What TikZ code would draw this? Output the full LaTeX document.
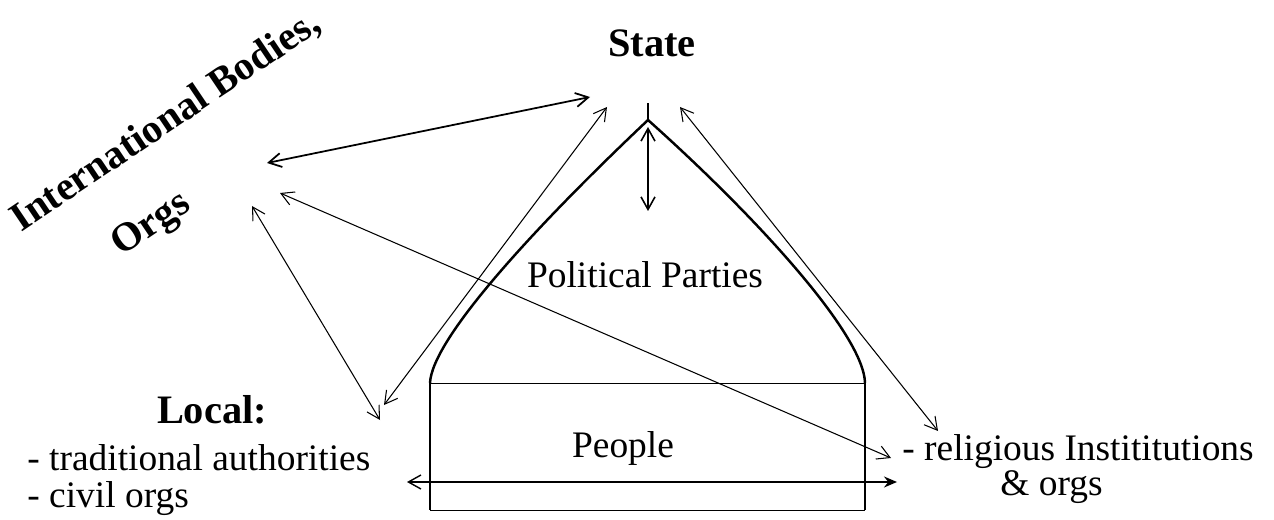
\documentclass[tikz,border=0pt]{standalone}
\usepackage{fontspec}
\setmainfont{Liberation Serif}
\usetikzlibrary{arrows.meta}
\tikzset{
  txt/.style={font=\fontsize{21.3}{21}\selectfont, inner sep=0pt},
  head/.style={font=\fontsize{23}{24}\selectfont\bfseries, inner sep=0pt},
  barb/.tip={Straight Barb[length=2.5mm, width=2.8mm]},
  link/.style={barb-barb, line width=0.6pt},
  roof/.style={line width=1.4pt, line join=round},
}

\begin{document}
\begin{tikzpicture}[x=0.02cm, y=-0.02cm]
  \useasboundingbox (0,0) rectangle (1274,520);

  % labels
  \node[head, anchor=base] (state) at (652,57) {State};
  \node[head, anchor=base, rotate=34] (intl) at (172,131) {International Bodies,};
  \node[head, anchor=base, rotate=34] (orgs) at (157,233) {Orgs};
  \node[head, anchor=base] (local) at (212,423) {Local:};
  \node[txt, anchor=base west] (trad) at (27,470) {- traditional authorities};
  \node[txt, anchor=base west] (civil) at (27,507) {- civil orgs};
  \node[txt, anchor=base west] (relig) at (902,460) {- religious Instititutions};
  \node[txt, anchor=base west] (relorgs) at (1000,495) {\& orgs};
  \node[txt, anchor=base] (parties) at (645,287) {Political Parties};
  \node[txt, anchor=base] (people) at (623,457) {People};

  % the house
  \coordinate (apex) at (648,120);
  \coordinate (hnw) at (430,383);
  \coordinate (hne) at (865,383);
  \coordinate (hsw) at (430,510);
  \coordinate (hse) at (865,510);
  \draw[roof] (hnw) .. controls (432,338) and (538,224) .. (apex)
              .. controls (762,222) and (864,336) .. (hne);
  \draw[roof] (apex) -- (648,103);
  \draw[line width=1.4pt] (hnw) -- (hsw);
  \draw[line width=1.4pt] (hne) -- (hse);
  \draw[line width=0.5pt] (hnw) -- (hne);
  \draw[line width=0.5pt] (hsw) -- (hse);

  % link ends
  \coordinate (intlA) at (267,163);
  \coordinate (intlB) at (280,193);
  \coordinate (intlC) at (252,206);
  \coordinate (stateA) at (590,97);
  \coordinate (stateB) at (607,107);
  \coordinate (stateC) at (648,127);
  \coordinate (stateD) at (680,107);
  \coordinate (partiesA) at (648,211);
  \coordinate (localA) at (380,420);
  \coordinate (localB) at (384,405);
  \coordinate (localC) at (407,482);
  \coordinate (religA) at (938,431);
  \coordinate (religB) at (891,458);
  \coordinate (religC) at (897,482);

  % links
  \draw[link, line width=1pt] (stateA) -- (intlA);
  \draw[link] (intlC) -- (localA);
  \draw[link] (stateB) -- (localB);
  \draw[link] (intlB) -- (religB);
  \draw[link] (stateD) -- (religA);
  \draw[link, line width=0.9pt] (stateC) -- (partiesA);
  \draw[barb-{Stealth[length=2.6mm, width=2.2mm]}, line width=0.8pt] (localC) -- (religC);

\end{tikzpicture}
\end{document}
